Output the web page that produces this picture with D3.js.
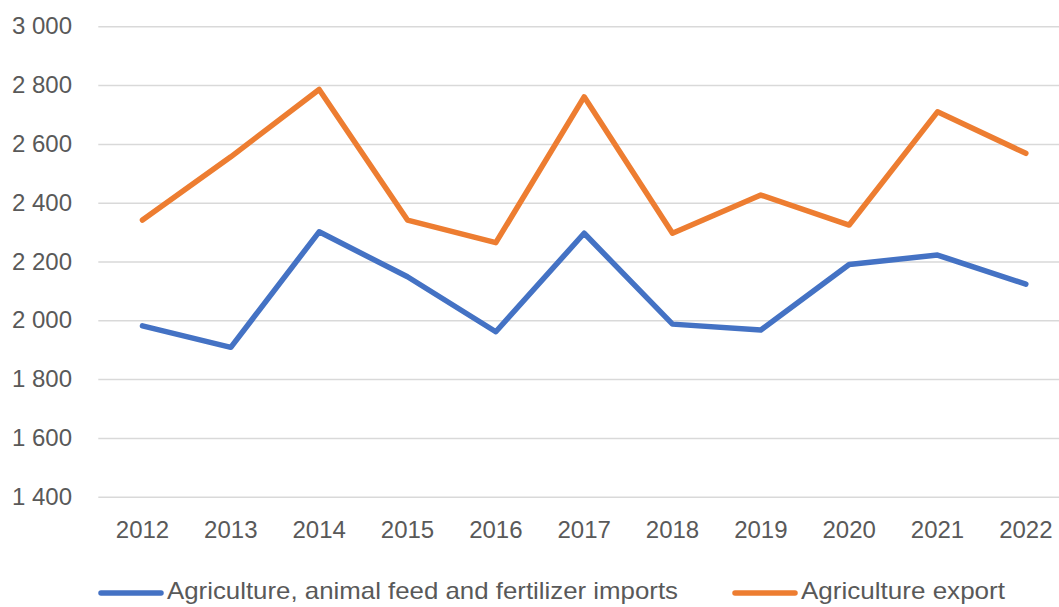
<!DOCTYPE html>
<html>
<head>
<meta charset="utf-8">
<script src="https://cdn.jsdelivr.net/npm/d3@7"></script>
<style>
  html, body { margin: 0; padding: 0; background: #fff; }
  svg { display: block; }
  text { font-family: "Liberation Sans", Arial, sans-serif; }
</style>
</head>
<body>
<svg id="chart" width="1059" height="607"></svg>
<script>
const years = ["2012","2013","2014","2015","2016","2017","2018","2019","2020","2021","2022"];
const imports = [1981, 1908, 2301, 2148, 1961, 2296, 1987, 1967, 2190, 2222, 2123];
const exports_ = [2341, 2556, 2785, 2341, 2264, 2760, 2296, 2426, 2324, 2709, 2568];
const yTicks = [1400, 1600, 1800, 2000, 2200, 2400, 2600, 2800, 3000];
const seriesNames = ["Agriculture, animal feed and fertilizer imports", "Agriculture export"];
const seriesColors = ["#4472C4", "#ED7D31"];

(function () {
const svg = d3.select("#chart");
const pLeft = 98.3, pRight = 1070, pTop = 26.3, pBottom = 496.7;

const x = d3.scaleBand().domain(years).range([pLeft, pRight]);
const y = d3.scaleLinear().domain([1400, 3000]).range([pBottom, pTop]);

const loc = d3.formatLocale({decimal: ".", thousands: " ", grouping: [3], currency: ["", ""]});
const fmt = loc.format(",");

// gridlines
const grid = svg.append("g")
  .attr("transform", `translate(${pLeft},0)`)
  .call(d3.axisLeft(y).tickValues(yTicks).tickSize(-(pRight - pLeft)).tickFormat(""));
grid.select(".domain").remove();
grid.selectAll("line").attr("stroke", "#d9d9d9").attr("stroke-width", 1.5);

// y axis labels
const ya = svg.append("g")
  .attr("transform", `translate(72,0)`)
  .call(d3.axisLeft(y).tickValues(yTicks).tickSize(0).tickPadding(0).tickFormat(fmt));
ya.select(".domain").remove();
ya.selectAll("text")
  .attr("fill", "#595959")
  .style("font-size", "24px")
  .style("font-family", "'Liberation Sans', Arial, sans-serif");

// x axis labels
const xa = svg.append("g")
  .attr("transform", `translate(0,${pBottom})`)
  .call(d3.axisBottom(x).tickSize(0).tickPadding(0));
xa.select(".domain").remove();
xa.selectAll("text")
  .attr("fill", "#595959")
  .attr("dy", null)
  .attr("y", 35)
  .attr("dominant-baseline", "middle")
  .style("font-size", "24px")
  .style("font-family", "'Liberation Sans', Arial, sans-serif");

// lines
const line = d3.line()
  .x((d, i) => x(years[i]) + x.bandwidth() / 2)
  .y(d => y(d));

[imports, exports_].forEach((vals, k) => {
  svg.append("path")
    .datum(vals)
    .attr("fill", "none")
    .attr("stroke", seriesColors[k])
    .attr("stroke-width", 5.5)
    .attr("stroke-linejoin", "round")
    .attr("stroke-linecap", "round")
    .attr("d", line);
});

// legend
const legY = 593;
const legendItems = [
  {x1: 101, x2: 161, tx: 167, tw: 511},
  {x1: 735, x2: 795, tx: 801, tw: 204}
];
legendItems.forEach((it, k) => {
  svg.append("line")
    .attr("x1", it.x1).attr("x2", it.x2)
    .attr("y1", legY).attr("y2", legY)
    .attr("stroke", seriesColors[k])
    .attr("stroke-width", 5.5)
    .attr("stroke-linecap", "round");
  svg.append("text")
    .attr("x", it.tx).attr("y", legY)
    .attr("dominant-baseline", "middle")
    .attr("fill", "#595959")
    .attr("textLength", it.tw)
    .attr("lengthAdjust", "spacingAndGlyphs")
    .style("font-size", "24px")
    .text(seriesNames[k]);
});
})();
</script>
</body>
</html>
